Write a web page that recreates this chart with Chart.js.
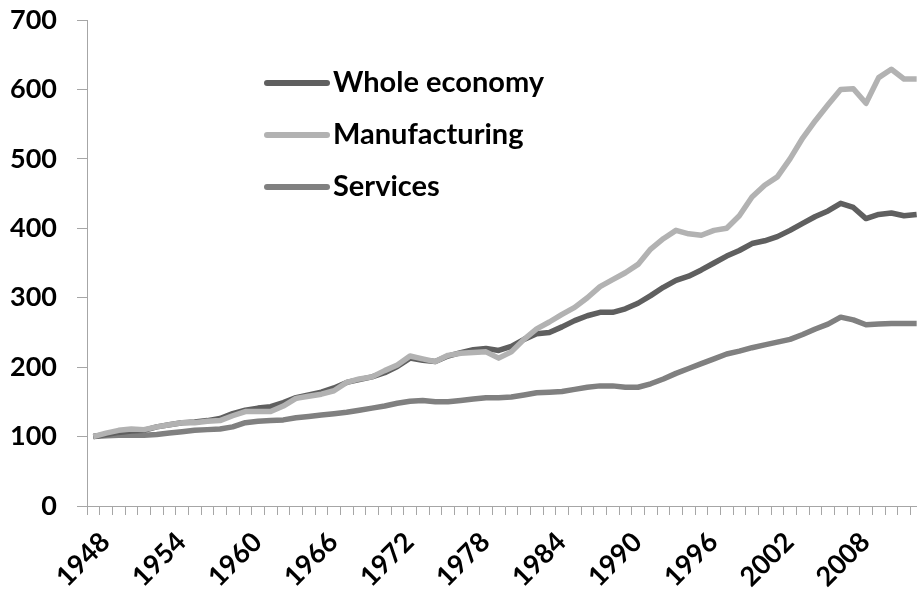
<!DOCTYPE html>
<html>
<head>
<meta charset="utf-8">
<script src="https://cdn.jsdelivr.net/npm/chart.js@4.4.1/dist/chart.umd.min.js"></script>
<style>
  html, body { margin: 0; padding: 0; background: #fff; overflow: hidden; }
</style>
</head>
<body>
<canvas id="myChart" width="923" height="589"></canvas>
<script>
// 연도 (1948 = 100)
const years = [
    '1948', '1949', '1950', '1951', '1952', '1953', '1954', '1955', '1956', '1957',
    '1958', '1959', '1960', '1961', '1962', '1963', '1964', '1965', '1966', '1967',
    '1968', '1969', '1970', '1971', '1972', '1973', '1974', '1975', '1976', '1977',
    '1978', '1979', '1980', '1981', '1982', '1983', '1984', '1985', '1986', '1987',
    '1988', '1989', '1990', '1991', '1992', '1993', '1994', '1995', '1996', '1997',
    '1998', '1999', '2000', '2001', '2002', '2003', '2004', '2005', '2006', '2007',
    '2008', '2009', '2010', '2011', '2012', '2013'
];
const tickYears = ['1948', '1954', '1960', '1966', '1972', '1978', '1984', '1990', '1996', '2002', '2008'];
const yTicks = [0, 100, 200, 300, 400, 500, 600, 700];

const wholeEconomy = [
    100, 103, 106, 108, 109, 114, 117, 120, 121, 123,
    126, 133, 138, 141, 143, 149, 156, 160, 164, 170,
    178, 182, 186, 192, 201, 213, 210, 208, 216, 221,
    225, 227, 224, 230, 240, 248, 250, 258, 267, 274,
    279, 279, 284, 292, 303, 315, 325, 331, 340, 350,
    360, 368, 378, 382, 388, 397, 407, 417, 425, 436,
    430, 414, 420, 422, 418, 420
];
const manufacturing = [
    100, 105, 109, 111, 110, 114, 117, 120, 120, 122,
    123, 130, 136, 136, 136, 144, 155, 158, 161, 166,
    178, 183, 186, 195, 203, 216, 212, 208, 217, 220,
    221, 222, 213, 222, 240, 255, 265, 276, 286, 300,
    316, 326, 336, 348, 370, 385, 397, 392, 390, 397,
    400, 418, 445, 462, 474, 500, 530, 555, 578, 600,
    601, 580, 617, 629, 615, 615
];
const services = [
    100, 101, 102, 102, 102, 103, 105, 107, 109, 110,
    111, 114, 120, 122, 123, 124, 127, 129, 131, 133,
    135, 138, 141, 144, 148, 151, 152, 150, 150, 152,
    154, 156, 156, 157, 160, 163, 164, 165, 168, 171,
    173, 173, 171, 171, 176, 183, 191, 198, 205, 212,
    219, 223, 228, 232, 236, 240, 247, 255, 262, 272,
    268, 261, 262, 263, 263, 263
];

const labelFont = { family: 'Lato', size: 27, weight: 'bold' };
const axisGray = '#a6a6a6';

// 차트 안쪽 범례
const insideLegend = {
    id: 'insideLegend',
    afterDatasetsDraw(chart) {
        const ctx = chart.ctx;
        ctx.save();
        ctx.font = 'bold 29px Lato';
        ctx.textBaseline = 'middle';
        ctx.lineCap = 'round';
        chart.data.datasets.forEach((ds, i) => {
            const y = 83 + i * 52;
            ctx.strokeStyle = ds.borderColor;
            ctx.lineWidth = 6;
            ctx.beginPath();
            ctx.moveTo(267, y);
            ctx.lineTo(327, y);
            ctx.stroke();
            ctx.fillStyle = '#000';
            ctx.fillText(ds.label, 333, y);
        });
        ctx.restore();
    }
};

const data_line = {
    labels: years,
    datasets: [
        { label: 'Whole economy', data: wholeEconomy, borderColor: '#5f5f5f', order: 2 },
        { label: 'Manufacturing', data: manufacturing, borderColor: '#b2b2b2', order: 1 },
        { label: 'Services', data: services, borderColor: '#808080', order: 3 }
    ]
};
data_line.datasets.forEach(ds => {
    ds.borderWidth = 5.5;
    ds.pointRadius = 0;
    ds.tension = 0;
    ds.borderJoinStyle = 'round';
    ds.fill = false;
});

const ctx_line = document.getElementById('myChart').getContext('2d');
const myChart_line = new Chart(ctx_line, {
    type: 'line',
    data: data_line,
    plugins: [insideLegend],
    options: {
        responsive: false,
        animation: false,
        devicePixelRatio: 1,
        layout: { padding: { top: 20, left: 0, right: 0, bottom: 0 } },
        plugins: { legend: { display: false }, tooltip: { enabled: false } },
        scales: {
            x: {
                type: 'category',
                offset: true,
                grid: {
                    offset: true, drawOnChartArea: false, drawTicks: true, tickLength: 9,
                    color: axisGray, lineWidth: 1, tickColor: axisGray, tickWidth: 1
                },
                border: { color: axisGray, width: 1 },
                ticks: {
                    autoSkip: false,
                    minRotation: 45,
                    maxRotation: 45,
                    padding: 11,
                    labelOffset: 12,
                    color: '#000',
                    font: labelFont,
                    callback: function (value) {
                        const lab = this.getLabelForValue(value);
                        return tickYears.includes(lab) ? lab : '';
                    }
                },
                afterFit(scale) {
                    scale.height = 83;
                    scale.paddingLeft = 0;
                    scale.paddingRight = 0;
                }
            },
            y: {
                min: 0,
                max: 700,
                grid: {
                    drawOnChartArea: false, drawTicks: true, tickLength: 10,
                    color: axisGray, lineWidth: 1, tickColor: axisGray, tickWidth: 1
                },
                border: { color: axisGray, width: 1 },
                afterBuildTicks(scale) { scale.ticks = yTicks.map(v => ({ value: v })); },
                ticks: { padding: 20, color: '#000', font: labelFont },
                afterFit(scale) {
                    scale.width = 87;
                    scale.paddingTop = 0;
                    scale.paddingBottom = 0;
                }
            }
        }
    }
});
</script>
</body>
</html>
